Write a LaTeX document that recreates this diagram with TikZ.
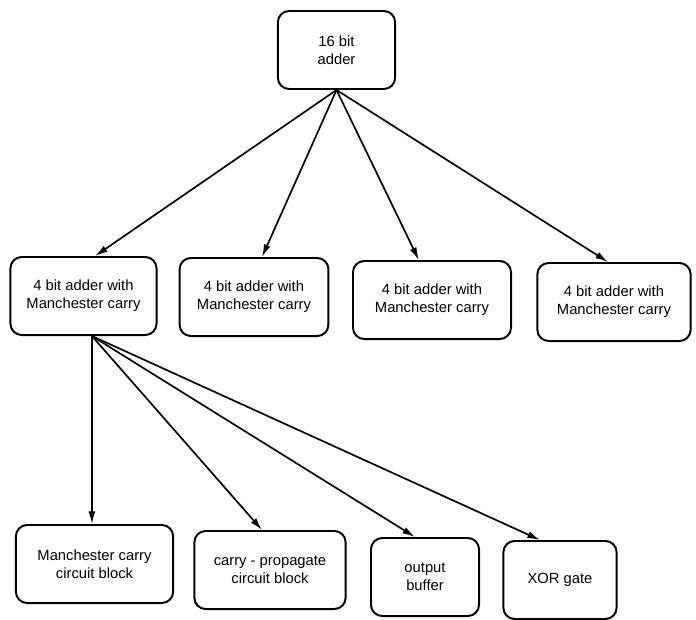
\documentclass[tikz,border=0pt]{standalone}
\usepackage{fontspec}
\setmainfont{Liberation Sans}
\usetikzlibrary{arrows.meta,shapes}

\begin{document}
\begin{tikzpicture}[x=0.025cm,y=-0.025cm]

		\useasboundingbox (0,0) rectangle (696,619);

		\tikzstyle{edge} = [draw,-{Latex[length=9pt,width=5pt]},line width=1.2pt]

		\tikzset{block/.style = {shape=rectangle,draw,rounded corners=8pt,line width=1.4pt,align=center,
			font=\fontsize{10.5}{12.8}\selectfont,minimum height=1.95cm,inner sep=2pt}}
		\node[block,minimum width=2.93cm] (add16) at  (336.5,50) {16 bit\\adder};

		\node[block,minimum width=3.65cm] (m1) at  (83.5,296) {4 bit adder with\\Manchester carry};
		\node[block,minimum width=3.72cm] (m2) at  (254,297) {4 bit adder with\\Manchester carry};
		\node[block,minimum width=3.95cm] (m3) at  (432,300) {4 bit adder with\\Manchester carry};
		\node[block,minimum width=3.83cm] (m4) at  (614,302) {4 bit adder with\\Manchester carry};

		\node[block,minimum width=3.93cm] (mcc) at  (94.5,564) {Manchester carry\\circuit block};
		\node[block,minimum width=3.78cm] (cpc) at  (270,570) {carry - propagate\\circuit block};
		\node[block,minimum width=2.7cm] (buf) at  (425,577) {output\\buffer};
		\node[block,minimum width=2.83cm] (xor) at  (560,580) {XOR gate};

		\draw[edge] (add16.south) to ([xshift=0.29cm]m1.north);
		\draw[edge] (add16.south) to ([xshift=0.2cm]m2.north);
		\draw[edge] (add16.south) to ([xshift=-0.33cm]m3.north);
		\draw[edge] (add16.south) to ([xshift=-0.15cm]m4.north);

		\coordinate (fork) at ([xshift=0.21cm]m1.south);
		\draw[edge] (fork) to (fork |- mcc.north);
		\draw[edge] (fork) to ([xshift=-0.2cm]cpc.north);
		\draw[edge] (fork) to ([xshift=-0.25cm]buf.north);
		\draw[edge] (fork) to ([xshift=-0.5cm]xor.north);
		\end{tikzpicture}
\end{document}
